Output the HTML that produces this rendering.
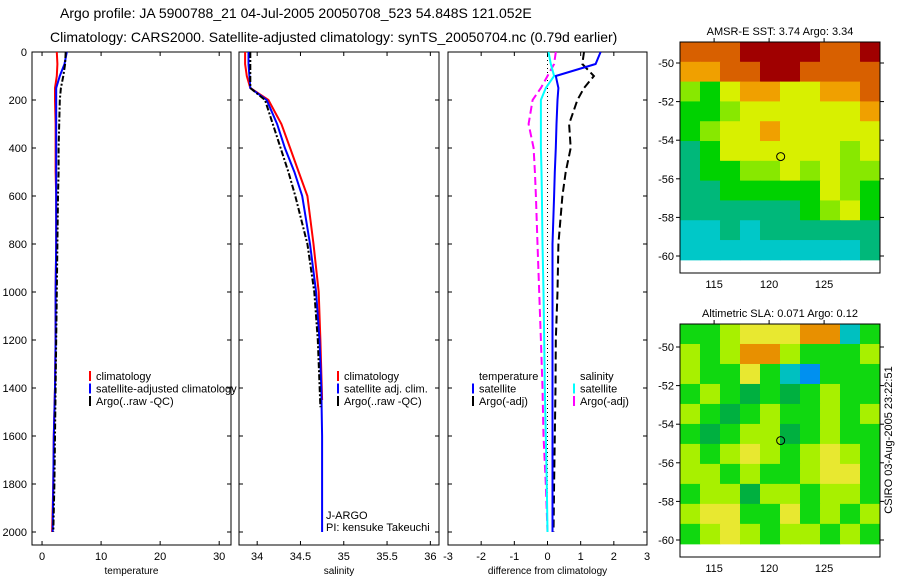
<!DOCTYPE html>
<html><head><meta charset="utf-8"><style>
body{margin:0;background:#fff;}
svg{display:block;font-family:"Liberation Sans",sans-serif;}
text{font-size:11px;fill:#000;}
</style></head><body>
<svg id="s" width="900" height="580" viewBox="0 0 900 580">
<text x="60" y="18" style="font-size:14px">Argo profile: JA 5900788_21 04-Jul-2005 20050708_523 54.848S 121.052E</text>
<text x="50" y="42" style="font-size:14px">Climatology: CARS2000. Satellite-adjusted climatology: synTS_20050704.nc (0.79d earlier)</text>
<text transform="translate(892,440) rotate(-90)" text-anchor="middle">CSIRO 03-Aug-2005 23:22:51</text>
</svg>
<script>
const depthTicks=[0,200,400,600,800,1000,1200,1400,1600,1800,2000];
const tempTicks=[0,10,20,30];
const salTicks=[34,34.5,35,35.5,36];
const diffTicks=[-3,-2,-1,0,1,2,3];
const depths=[0,50,100,150,200,300,400,500,600,800,1000,1200,1400,1600,1800,2000];
const tClim=[2.5,2.6,2.5,2.2,2.2,2.3,2.3,2.3,2.4,2.4,2.3,2.3,2.2,2.0,1.9,1.7];
const tSat=[4.2,3.8,3.0,2.4,2.4,2.4,2.4,2.4,2.4,2.4,2.3,2.3,2.2,2.0,1.9,1.8];
const tArgo=[4.0,3.9,3.6,3.2,3.0,2.9,2.8,2.8,2.7,2.6,2.5,2.4,2.3,2.2,2.1,1.9];
const sDepthClim=[0,50,100,150,200,300,400,500,600,800,1000,1200,1450];
const sClim=[33.86,33.86,33.88,33.92,34.13,34.28,34.38,34.48,34.58,34.65,34.71,34.73,34.75];
const sSat=[33.9,33.9,33.91,33.92,34.11,34.23,34.32,34.43,34.52,34.61,34.68,34.72,34.74,34.75,34.75,34.75];
const sDepthArgo=[0,50,100,150,200,300,400,500,600,800,1000,1200,1480];
const sArgo=[33.92,33.92,33.92,33.92,34.09,34.18,34.27,34.36,34.44,34.58,34.66,34.70,34.73];
const dTSat=[1.6,1.45,0.25,0.33,0.3,0.27,0.25,0.22,0.2,0.15,0.15,0.15,0.15,0.15,0.15,0.15];
const dTArgo=[1.1,1.05,1.4,1.1,0.9,0.65,0.7,0.55,0.45,0.33,0.3,0.25,0.24,0.22,0.2,0.18];
const dSSat=[0.03,0.1,0.2,-0.05,-0.2,-0.2,-0.2,-0.18,-0.17,-0.15,-0.12,-0.1,-0.08,-0.05,-0.02,0];
const dSArgo=[0.25,0.2,0,-0.2,-0.45,-0.57,-0.42,-0.38,-0.35,-0.3,-0.25,-0.2,-0.15,-0.12,-0.05,0];
const lonTicks=[115,120,125];
const latTicks=[-50,-52,-54,-56,-58,-60];
const sstGrid=["8889999889","7788998888","5467766778","4456666667","4566766666","3466666656","3445565655","3344444654","3333334564","2232333333","2222222223"];
const slaGrid=["4456667724","5457754445","5446421444","4543434544","5434544545","4345534544","5456545654","5545445664","4553554554","5664464545","4565455454"];
const ns="http://www.w3.org/2000/svg";
const S=document.getElementById('s');
function el(t,a,p){const e=document.createElementNS(ns,t);for(const k in a)e.setAttribute(k,a[k]);(p||S).appendChild(e);return e;}
const Y0=52,Y1=545;
function yD(d){return Y0+d*0.24;}
function panel(name,x0,x1,vmin,vmax,ticks,label,showDepth){
  const g=el('g',{});
  
  
  const xs=v=>x0+(v-vmin)/(vmax-vmin)*(x1-x0);
  const r=el('rect',{x:x0,y:Y0,width:x1-x0,height:Y1-Y0,fill:'none',stroke:'#000','stroke-width':1},g);
  
  
  ticks.forEach(t=>{const x=xs(t);
    el('line',{x1:x,x2:x,y1:Y1,y2:Y1-4,stroke:'#000'},g);
    el('line',{x1:x,x2:x,y1:Y0,y2:Y0+4,stroke:'#000'},g);
    const tx=el('text',{x:x,y:Y1+15,'text-anchor':'middle'},g);tx.textContent=String(t);
    
    
  });
  depthTicks.forEach(d=>{const y=yD(d);
    el('line',{x1:x0,x2:x0+4,y1:y,y2:y,stroke:'#000'},g);
    el('line',{x1:x1,x2:x1-4,y1:y,y2:y,stroke:'#000'},g);
    if(showDepth){const tx=el('text',{x:x0-5,y:y+4,'text-anchor':'end'},g);tx.textContent=String(d);
      
      }
  });
  const lb=el('text',{x:(x0+x1)/2,y:Y1+29,'text-anchor':'middle','style':'font-size:10px'},g);lb.textContent=label;
  
  
  return {g,xs};
}
function line(p,vals,ds,color,dash,name){
  const pts=vals.map((v,i)=>p.xs(v).toFixed(1)+','+yD(ds[i]).toFixed(1)).join(' ');
  const l=el('polyline',{points:pts,fill:'none',stroke:color,'stroke-width':2,'stroke-dasharray':dash||'none'},p.g);
  
  
}
function legend(g,x,y,items){
  items.forEach((it,i)=>{const yy=y+i*12.5;
    if(it[0])el('line',{x1:x,x2:x,y1:yy-9,y2:yy+1,stroke:it[0],'stroke-width':2},g);
    const t=el('text',{x:x+6,y:yy},g);t.textContent=it[1];
    
    
  });
}
const p1=panel('temperature-panel',32,231,-1.7,32,tempTicks,'temperature',true);
line(p1,tClim,depths,'#f00',null,'temp-climatology-line');
line(p1,tSat,depths,'#00f',null,'temp-satellite-line');
line(p1,tArgo,depths,'#000','6 2 2 2','temp-argo-line');
legend(p1.g,90,380,[['#f00','climatology'],['#00f','satellite-adjusted climatology'],['#000','Argo(..raw -QC)']]);
const p2=panel('salinity-panel',239,439,33.79,36.1,salTicks,'salinity',false);
line(p2,sClim,sDepthClim,'#f00',null,'sal-climatology-line');
line(p2,sSat,depths,'#00f',null,'sal-satellite-line');
line(p2,sArgo,sDepthArgo,'#000','6 2 2 2','sal-argo-line');
legend(p2.g,338,380,[['#f00','climatology'],['#00f','satellite adj. clim.'],['#000','Argo(..raw -QC)']]);
const jt=el('text',{x:326,y:519},p2.g);jt.textContent='J-ARGO';


const pt=el('text',{x:326,y:531},p2.g);pt.textContent='PI: kensuke Takeuchi';


const p3=panel('difference-panel',448,647,-3,3,diffTicks,'difference from climatology',false);
el('line',{x1:p3.xs(0),x2:p3.xs(0),y1:Y0,y2:yD(2000),stroke:'#000','stroke-dasharray':'1 3'},p3.g);
line(p3,dTArgo,depths,'#000','8 4','diff-temp-argo-line');
line(p3,dSArgo,depths,'#f0f','8 4','diff-sal-argo-line');
line(p3,dSSat,depths,'#0ff',null,'diff-sal-satellite-line');
line(p3,dTSat,depths,'#00f',null,'diff-temp-satellite-line');
legend(p3.g,473,380,[[null,'temperature'],['#00f','satellite'],['#000','Argo(-adj)']]);
legend(p3.g,574,380,[[null,'salinity'],['#0ff','satellite'],['#f0f','Argo(-adj)']]);
const sstCols=['#0080ff','#00b0e0','#00c8c8','#00b87a','#00d200','#88e800','#d8f000','#f0a000','#d86000','#a00000'];
const slaCols=['#0030c0','#0090f0','#00c0c0','#00b040','#10d810','#a8f000','#e8e830','#e89000'];
function map(name,bx0,by0,by1,lat50y,lat60y,grid,cols,title){
  const g=el('g',{});
  
  
  const bx1=880;
  const xs=lon=>bx0+(lon-111.9)*11;
  const ys=lat=>lat50y+(-50-lat)*(lat60y-lat50y)/10;
  const nr=grid.length,nc=grid[0].length;
  const top=by0,bot=ys(-60.2);
  for(let r=0;r<nr;r++)for(let c=0;c<nc;c++){
    const v=+grid[r][c];
    const x=bx0+c*(bx1-bx0)/nc,y=top+r*(bot-top)/nr;
    const cell=el('rect',{x:x,y:y,width:(bx1-bx0)/nc+0.5,height:(bot-top)/nr+0.5,fill:cols[v]},g);
    
    
  }
  el('rect',{x:bx0,y:by0,width:bx1-bx0,height:by1-by0,fill:'none',stroke:'#000'},g);
  lonTicks.forEach(l=>{const x=xs(l);
    el('line',{x1:x,x2:x,y1:by0,y2:by0-4,stroke:'#000'},g);
    const t=el('text',{x:x,y:by1+15,'text-anchor':'middle'},g);t.textContent=String(l);
    
    });
  latTicks.forEach(l=>{const y=ys(l);
    el('line',{x1:bx0,x2:bx0-4,y1:y,y2:y,stroke:'#000'},g);
    el('line',{x1:bx1,x2:bx1+4,y1:y,y2:y,stroke:'#000'},g);
    const t=el('text',{x:bx0-6,y:y+4,'text-anchor':'end'},g);t.textContent=String(l);
    
    });
  const c=el('circle',{cx:xs(121.052),cy:ys(-54.848),r:4,fill:'none',stroke:'#000'},g);
  
  
  const t=el('text',{x:(bx0+bx1)/2,y:by0-7,'text-anchor':'middle'},g);t.textContent=title;
  
  
}
map('sst-map',680,42,273,63,256,sstGrid,sstCols,'AMSR-E SST: 3.74 Argo: 3.34');
map('sla-map',680,324,557,347,540,slaGrid,slaCols,'Altimetric SLA: 0.071 Argo: 0.12');
</script>
</body></html>
